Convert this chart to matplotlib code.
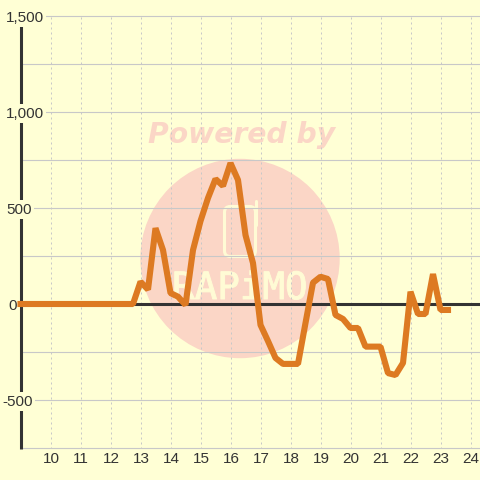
import matplotlib
matplotlib.use("Agg")
import matplotlib.pyplot as plt
import matplotlib.patheffects as pe
from matplotlib.patches import Circle, FancyBboxPatch
from matplotlib.lines import Line2D

hours = [9, 9.25, 9.5, 9.75, 10, 10.25, 10.5, 10.75, 11, 11.25, 11.5, 11.75,
         12, 12.25, 12.5, 12.75, 13, 13.25, 13.5, 13.75, 14, 14.25, 14.5, 14.75,
         15, 15.25, 15.5, 15.75, 16, 16.25, 16.5, 16.75, 17, 17.25, 17.5, 17.75,
         18, 18.25, 18.5, 18.75, 19, 19.25, 19.5, 19.75, 20, 20.25, 20.5, 20.75,
         21, 21.25, 21.5, 21.75, 22, 22.25, 22.5, 22.75, 23, 23.25]
values = [0, 0, 0, 0, 0, 0, 0, 0, 0, 0, 0, 0,
          0, 0, 0, 0, 116, 75, 395, 281, 57, 38, -5, 281,
          432, 552, 651, 615, 734, 646, 359, 213, -109, -193, -281, -312,
          -312, -312, -99, 111, 142, 130, -57, -78, -125, -125, -222, -222,
          -222, -360, -370, -307, 64, -52, -52, 156, -31, -31]

x_ticks = list(range(10, 25))
y_major = [-500, 0, 500, 1000, 1500]
y_labels = ["-500", "0", "500", "1,000", "1,500"]
y_label_left = [2, 8, 6, 6, 6]
y_minor = [-750, -250, 250, 750, 1250]

BG = "#ffffd5"
GRID = "#c8c8c8"
DARK = "#333333"
ORANGE = "#dd7a22"
PINK = "#fbd6c6"
LOGO = "#fffbd5"

plt.rcParams["font.family"] = ["Liberation Sans", "DejaVu Sans"]

fig = plt.figure(figsize=(4.8, 4.8), dpi=100, facecolor=BG)
# 20.5px = hour 9, 30px per hour; 304px = 0, 96px per 500
ax = fig.add_axes([20.5 / 480, (480 - 448.5) / 480, (480 - 20.5) / 480, (448.5 - 16) / 480])
ax.set_xlim(9, 9 + (480 - 20.5) / 30)
ax.set_ylim(-500 - 48.5 * 500 / 96, 1500)
ax.set_zorder(1)
ax.patch.set_alpha(0)

for side in ["top", "right", "left", "bottom"]:
    ax.spines[side].set_visible(False)
ax.tick_params(length=0, labelleft=False, labelbottom=False)

# watermark sits under the transparent axes
fig.add_artist(Circle((240 / 480, 1 - 258.5 / 480), 99.7 / 480, color=PINK, lw=0, zorder=0.5,
                      transform=fig.transFigure))
fig.text(241.5 / 480, 1 - 135 / 480, "Powered by", family="DejaVu Sans", weight="bold", style="italic",
         fontsize=20.3, color=PINK, ha="center", va="center", zorder=0.5)
fig.text(240 / 480, 1 - 289 / 480, "RAPiMO", family="DejaVu Sans Mono", fontsize=27, color=LOGO,
         ha="center", va="center", zorder=0.6,
         path_effects=[pe.withStroke(linewidth=0.7, foreground=LOGO)])
fig.add_artist(FancyBboxPatch((224.5 / 480, 1 - 256.5 / 480), 31 / 480, 50 / 480,
                              boxstyle="round,pad=0,rounding_size=0.012", fill=False, ec=LOGO, lw=2.2,
                              zorder=0.6, transform=fig.transFigure))
fig.add_artist(Line2D([255.5 / 480, 255.5 / 480], [1 - 225 / 480, 1 - 201 / 480], color=LOGO, lw=2.2,
                      solid_capstyle="round", zorder=0.6, transform=fig.transFigure))

for x in x_ticks:
    ax.axvline(x, color=GRID, lw=0.72, ls=(0, (2, 3)), zorder=1)
for y in y_major + y_minor:
    ax.axhline(y, color=GRID, lw=0.8, zorder=1, clip_on=False)
ax.axhline(0, color=DARK, lw=2.2, zorder=2)
ax.axvline(9, color=DARK, lw=2.2, zorder=2, clip_on=False, solid_capstyle="butt")

ax.plot(hours, values, color=ORANGE, lw=4.4, solid_joinstyle="bevel", solid_capstyle="projecting",
        zorder=3, clip_on=False)

for y, label, left in zip(y_major, y_labels, y_label_left):
    # every label but 0 masks the axis and grid behind it
    box = None if y == 0 else dict(fc=BG, ec="none", pad=1.5)
    ax.text((left - 20.5) / 30 + 9, y - 8, label, fontsize=11, color=DARK,
            ha="left", va="center", zorder=4, clip_on=False, bbox=box)
for x in x_ticks:
    ax.text(x + 0.02, -750 - 22, str(x), fontsize=11, color=DARK, ha="center", va="top", zorder=4,
            clip_on=False)

fig.savefig("out.png", dpi=100, facecolor=BG)
